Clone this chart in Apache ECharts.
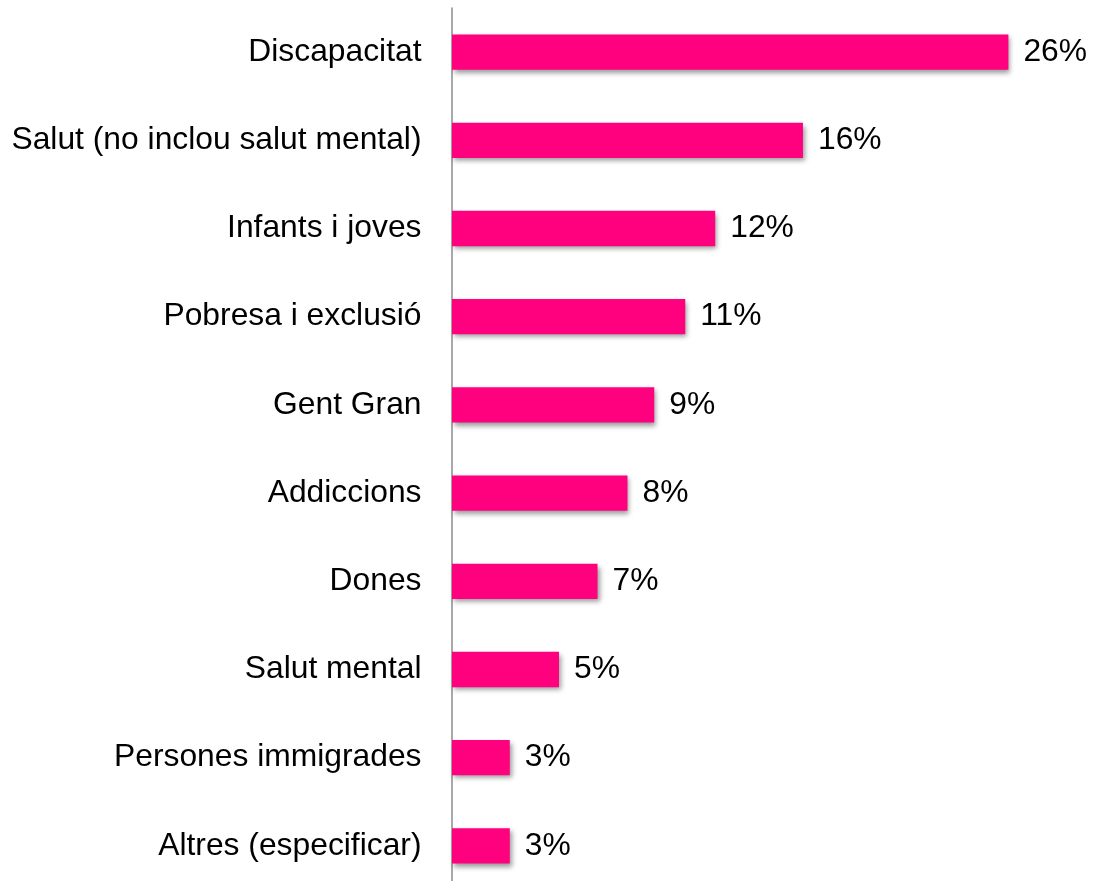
<!DOCTYPE html>
<html>
<head>
<meta charset="utf-8">
<script src="https://cdn.jsdelivr.net/npm/echarts@6/dist/echarts.min.js"></script>
<style>
html,body{margin:0;padding:0;background:#fff;}
#chart{width:1094px;height:881px;}
</style>
</head>
<body>
<div id="chart"></div>
<script>
const categories = [
  "Discapacitat",
  "Salut (no inclou salut mental)",
  "Infants i joves",
  "Pobresa i exclusió",
  "Gent Gran",
  "Addiccions",
  "Dones",
  "Salut mental",
  "Persones immigrades",
  "Altres (especificar)"
];
const values = [26.0, 16.4, 12.3, 10.9, 9.45, 8.2, 6.8, 5.0, 2.7, 2.7];

const chart = echarts.init(document.getElementById('chart'), null, {renderer: 'canvas'});
chart.setOption({
  animation: false,
  backgroundColor: '#ffffff',
  textStyle: {fontFamily: '"Liberation Sans", Arial, sans-serif'},
  grid: {left: 452, top: 8, width: 642, height: 882, outerBoundsMode: 'none', containLabel: false},
  xAxis: {
    type: 'value', min: 0, max: 30,
    show: false
  },
  yAxis: {
    type: 'category',
    data: categories,
    inverse: true,
    offset: 1.5,
    axisLine: {show: true, lineStyle: {color: '#8c8c8c', width: 1.5}},
    axisTick: {show: false},
    axisLabel: {
      color: '#000000',
      fontSize: 31.8,
      margin: 29,
      fontFamily: '"Liberation Sans", Arial, sans-serif'
    }
  },
  series: [{
    type: 'bar',
    data: values,
    barCategoryGap: '60%',
    itemStyle: {
      color: '#FF007F',
      shadowColor: 'rgba(0,0,0,0.4)',
      shadowBlur: 5,
      shadowOffsetX: 2,
      shadowOffsetY: 3
    },
    label: {
      show: true,
      position: 'right',
      distance: 15,
      color: '#000000',
      fontSize: 31.8,
      fontFamily: '"Liberation Sans", Arial, sans-serif',
      formatter: p => Math.round(p.value) + '%'
    }
  }]
});
</script>
</body>
</html>
